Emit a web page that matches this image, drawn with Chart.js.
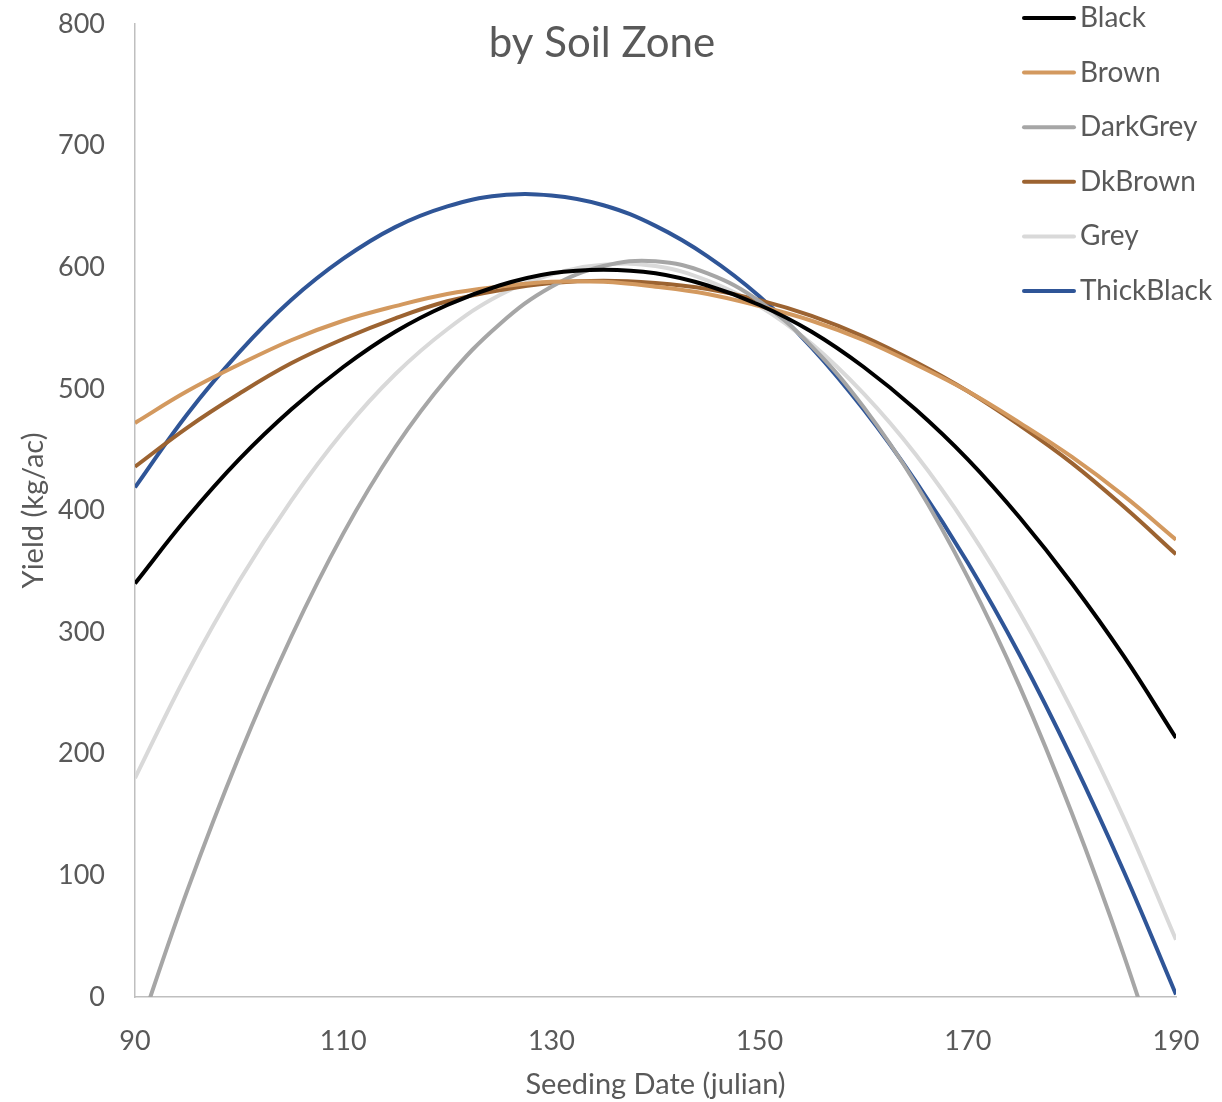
<!DOCTYPE html>
<html lang="en">
  <head>
    <meta charset="UTF-8" />
    <title>by Soil Zone</title>
    <script src="https://cdn.jsdelivr.net/npm/chart.js"></script>
    <style>
      body { margin: 0; background: #fff; }
      #wrap { width: 1222px; height: 1102px; }
    </style>
  </head>
  <body>
    <div id="wrap"><canvas id="soilChart" width="1222" height="1102"></canvas></div>

    <script>
      // seeding dates (julian) the curves are read at
      const dates = [90, 95, 100, 105, 110, 115, 120, 125, 130, 135, 140, 145, 150, 155, 160, 165, 170, 175, 180, 185, 190];

      // yield (kg/ac)
      const black = [340, 394, 442, 483, 518, 547, 569, 585, 595, 598, 595, 585, 569, 547, 518, 483, 442, 394, 340, 280, 213];
      const brown = [472, 498, 520, 540, 556, 568, 578, 584, 588, 588, 584, 578, 568, 556, 540, 520, 498, 472, 444, 412, 376];
      const darkGrey = [-37, 87, 198, 296, 381, 452, 509, 553, 584, 601, 605, 595, 572, 535, 485, 422, 345, 255, 151, 34, -97];
      const dkBrown = [436, 468, 496, 521, 541, 558, 572, 581, 587, 589, 587, 582, 573, 560, 543, 522, 498, 470, 439, 403, 364];
      const grey = [180, 266, 342, 408, 465, 512, 549, 577, 594, 602, 601, 589, 568, 537, 496, 446, 386, 316, 236, 147, 47];
      const thickBlack = [419, 479, 530, 573, 607, 633, 650, 659, 659, 651, 634, 609, 576, 534, 483, 424, 357, 281, 196, 103, 2];

      const seriesNames = ["Black", "Brown", "DarkGrey", "DkBrown", "Grey", "ThickBlack"];
      const seriesColors = ["#000000", "#d3995f", "#a6a6a6", "#9c6331", "#d9d9d9", "#2f5597"];
      const seriesValues = [black, brown, darkGrey, dkBrown, grey, thickBlack];

      const textColor = "#595959";
      const fontFamily = "Lato, 'Noto Sans', sans-serif";

      // title and legend sit inside the plot, like the Excel original
      const overlayPlugin = {
        id: "overlay",
        afterDatasetsDraw(chart) {
          const ctx = chart.ctx;
          ctx.save();
          ctx.fillStyle = textColor;
          ctx.textBaseline = "middle";
          ctx.textAlign = "center";
          ctx.font = "42px " + fontFamily;
          ctx.fillText("by Soil Zone", 602, 43);

          ctx.textAlign = "left";
          ctx.font = "28px " + fontFamily;
          chart.data.datasets.forEach((ds, i) => {
            const y = 18 + i * 54.6;
            ctx.strokeStyle = ds.borderColor;
            ctx.lineWidth = 4;
            ctx.lineCap = "round";
            ctx.beginPath();
            ctx.moveTo(1024, y);
            ctx.lineTo(1074, y);
            ctx.stroke();
            ctx.fillText(ds.label, 1080, y);
          });
          ctx.restore();
        },
      };

      // fixed plot box: x axis 135..1176, y axis 24..997
      function fitX(scale) {
        scale.height = 105;
        scale.paddingLeft = 0;
        scale.paddingRight = 0;
      }
      function fitY(scale) {
        scale.width = 135;
        scale.paddingTop = 0;
        scale.paddingBottom = 0;
      }

      const ctx = document.getElementById("soilChart").getContext("2d");
      new Chart(ctx, {
        type: "line",
        data: {
          datasets: seriesNames.map((name, i) => ({
            label: name,
            data: dates.map((d, j) => ({ x: d, y: seriesValues[i][j] })),
            borderColor: seriesColors[i],
            backgroundColor: seriesColors[i],
            borderWidth: 4,
            pointRadius: 0,
            tension: 0.4,
            fill: false,
          })),
        },
        options: {
          responsive: false,
          animation: false,
          layout: { padding: { top: 24, right: 46, left: 0, bottom: 0 } },
          plugins: {
            legend: { display: false },
            title: { display: false },
            tooltip: { enabled: false },
          },
          scales: {
            x: {
              type: "linear",
              min: 90,
              max: 190,
              afterFit: fitX,
              ticks: {
                stepSize: 20,
                padding: 28,
                color: textColor,
                font: { family: fontFamily, size: 27 },
              },
              grid: { display: false, drawTicks: false },
              border: { color: "#bfbfbf", width: 1.5 },
              title: {
                display: true,
                text: "Seeding Date (julian)",
                color: textColor,
                font: { family: fontFamily, size: 29 },
                padding: { top: 0, bottom: 0 },
              },
            },
            y: {
              min: 0,
              max: 800,
              afterFit: fitY,
              ticks: {
                stepSize: 100,
                padding: 30,
                color: textColor,
                font: { family: fontFamily, size: 27 },
              },
              grid: { display: false, drawTicks: false },
              border: { color: "#bfbfbf", width: 1.5 },
              title: {
                display: true,
                text: "Yield (kg/ac)",
                color: textColor,
                font: { family: fontFamily, size: 29 },
                padding: { top: 16, bottom: 0 },
              },
            },
          },
        },
        plugins: [overlayPlugin],
      });
    </script>
  </body>
</html>
